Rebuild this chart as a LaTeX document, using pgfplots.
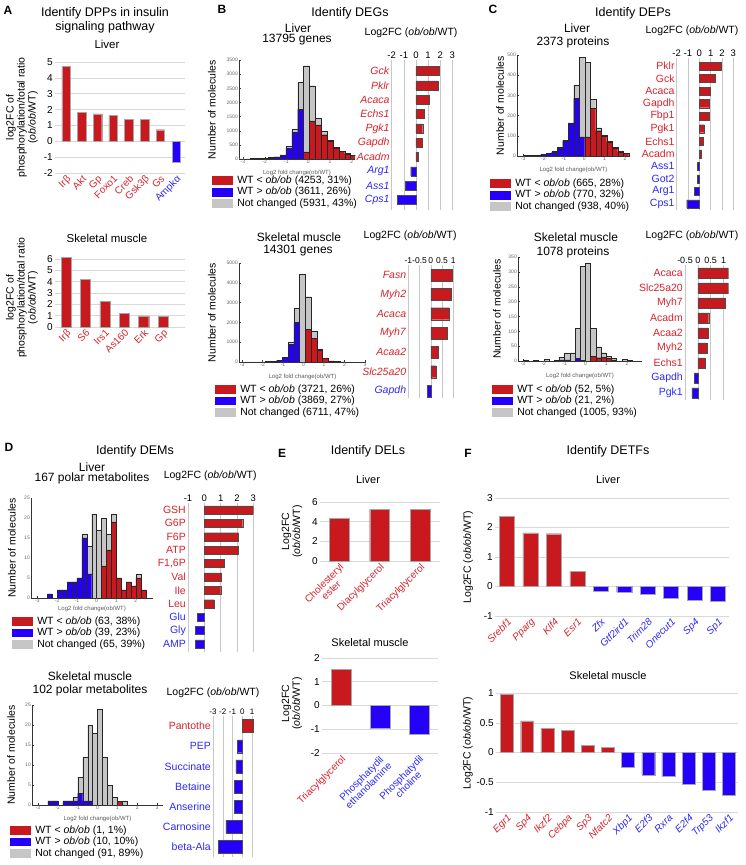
\documentclass[border=0pt]{standalone}
\usepackage{fontspec}
\setmainfont{Liberation Sans}
\usepackage{pgfplots}
\pgfplotsset{compat=1.18}
\definecolor{cred}{RGB}{200,25,30}
\definecolor{cblue}{RGB}{36,0,250}
\definecolor{cgray}{RGB}{198,198,198}
\definecolor{tred}{RGB}{215,35,45}
\definecolor{tblue}{RGB}{45,40,245}
\newcommand{\fs}[1]{\fontsize{#1}{#1}\selectfont}
\newcommand{\R}[1]{\textcolor{tred}{#1}}
\newcommand{\B}[1]{\textcolor{tblue}{#1}}
\newcommand{\RI}[1]{\textcolor{tred}{\textit{#1}}}
\newcommand{\BI}[1]{\textcolor{tblue}{\textit{#1}}}
\newcommand{\obob}{\textit{ob/ob}}
\pgfplotsset{
  every axis/.append style={scale only axis, anchor=south west,
    /pgf/number format/assume math mode=true,
    /pgf/number format/1000 sep={}, scaled ticks=false},
  hist/.style={
    axis x line*=bottom, axis y line*=left,
    axis line style={black!80, line width=0.4pt},
    tick align=inside, major tick length=1.5pt,
    tick style={black!80, line width=0.3pt},
    ticklabel style={font=\fs{5}, text=black!60, inner sep=1pt},
    ymin=0,
    xlabel={Log2 fold change(ob/WT)},
    xlabel style={font=\fs{6}, text=black!65, inner sep=0pt, anchor=center},
    ylabel={Number of molecules},
    ylabel style={font=\fs{10.5}, inner sep=0pt, anchor=center},
    legend cell align=left,
    legend style={draw=none, fill=none, inner sep=0pt, anchor=north west,
      font=\fs{10.5}, row sep=0.5pt,
      nodes={inner sep=0.6pt, text height=7.6pt, text depth=2.2pt}},
    legend image code/.code={\fill[##1, draw=none] (0pt,-4.3pt) rectangle (21pt,4.3pt);},
    /tikz/every odd column/.append style={column sep=3.5pt},
  },
  gb/.style={ybar, bar width=#1, bar shift=0pt, fill=cgray, draw=black!85, line width=0.3pt, forget plot},
  rb/.style={ybar, bar width=#1, bar shift=0pt, fill=cred, draw=black!85, line width=0.3pt, forget plot},
  bb/.style={ybar, bar width=#1, bar shift=0pt, fill=cblue, draw=black!85, line width=0.3pt, forget plot},
  hbar/.style={
    axis line style={draw=none}, tick style={draw=none},
    xmajorgrids, major grid style={black!22, line width=0.5pt},
    xticklabel pos=upper,
    xticklabel style={font=\fs{9.5}, inner sep=1.5pt},
    yticklabel style={font=\fs{10.5}, inner sep=2pt},
    extra x ticks={0}, extra x tick labels={},
    extra x tick style={grid style={black!80, line width=0.6pt}},
    title={Log2FC (\obob/WT)},
    title style={font=\fs{10.5}, anchor=center, inner sep=0pt},
  },
  hr/.style={xbar, bar width=#1, bar shift=0pt, fill=cred, draw=black!70, line width=0.3pt},
  hb/.style={xbar, bar width=#1, bar shift=0pt, fill=cblue, draw=black!70, line width=0.3pt},
  cbar/.style={
    clip=false,
    axis line style={draw=none}, tick style={draw=none},
    ymajorgrids, major grid style={black!15, line width=0.5pt},
    yticklabel style={font=\fs{10}, inner sep=2pt},
    xticklabel style={font=\fs{10}, rotate=45, anchor=north east, inner sep=1pt, align=center},
    extra y ticks={0}, extra y tick labels={},
    extra y tick style={grid style={black!45, line width=0.9pt}},
    ylabel style={font=\fontsize{10.5}{11}\selectfont, anchor=center, align=center, inner sep=0pt},
  },
  cr/.style={ybar, bar width=#1, bar shift=0pt, fill=cred, draw=black!35, line width=0.3pt},
  cb/.style={ybar, bar width=#1, bar shift=0pt, fill=cblue, draw=black!35, line width=0.3pt},
}
\begin{document}
\begin{tikzpicture}[x=1pt,y=1pt]
\useasboundingbox (0,0) rectangle (745,865);
% ---------- texts ----------
\node[font=\bfseries\fs{12}] at (8,855) {A};
\node[font=\bfseries\fs{12}] at (222,856) {B};
\node[font=\bfseries\fs{12}] at (493,856) {C};
\node[font=\bfseries\fs{12}] at (9,418) {D};
\node[font=\bfseries\fs{12}] at (282,412) {E};
\node[font=\bfseries\fs{12}] at (468,412) {F};
\node[font=\fs{12.5}] at (105,852) {Identify DPPs in insulin};
\node[font=\fs{12.5}] at (105,838) {signaling pathway};
\node[font=\fs{11.5}] at (107,821) {Liver};
\node[font=\fs{11.5}] at (107,627) {Skeletal muscle};
\node[font=\fs{12.5}] at (350,852) {Identify DEGs};
\node[font=\fs{12}] at (298,837) {Liver};
\node[font=\fs{12}] at (297,825) {13795 genes};
\node[font=\fs{12}] at (299,628) {Skeletal muscle};
\node[font=\fs{12}] at (298,614) {14301 genes};
\node[font=\fs{12.5}] at (633,852) {Identify DEPs};
\node[font=\fs{12}] at (577,837) {Liver};
\node[font=\fs{12}] at (573,823) {2373 proteins};
\node[font=\fs{12}] at (576,628) {Skeletal muscle};
\node[font=\fs{12}] at (573,613) {1078 proteins};
\node[font=\fs{12.5}] at (135,414) {Identify DEMs};
\node[font=\fs{12}] at (92,398) {Liver};
\node[font=\fs{12}] at (92,387) {167 polar metabolites};
\node[font=\fs{12}] at (90,189) {Skeletal muscle};
\node[font=\fs{12}] at (90,175) {102 polar metabolites};
\node[font=\fs{12.5}] at (368,414) {Identify DELs};
\node[font=\fs{11}] at (368,385) {Liver};
\node[font=\fs{11}] at (370,222) {Skeletal muscle};
\node[font=\fs{12.5}] at (608,414) {Identify DETFs};
\node[font=\fs{11}] at (608,385) {Liver};
\node[font=\fs{11}] at (608,189) {Skeletal muscle};

% ---------- A liver ----------
\begin{axis}[cbar, at={(55pt,692pt)}, width=130pt, height=111pt,
  xmin=-0.7, xmax=7.57, ymin=-2, ymax=5, ytick={-2,...,5},
  xtick={0,...,7},
  xticklabels={\R{Irβ},\R{Akt},\R{Gp},\R{Foxo1},\R{Creb},\R{Gsk3β},\R{Gs},\B{Ampkα}},
  ylabel={log2FC of\\phosphorylation/total ratio\\(\obob/WT)},
  ylabel style={at={(axis description cs:-0.254,0.5)}}]
\addplot[cr=0.54] coordinates {(0,4.73) (1,1.81) (2,1.73) (3,1.63) (4,1.4) (5,1.38) (6,0.73)};
\addplot[cb=0.54] coordinates {(7,-1.29)};
\end{axis}
% ---------- A skeletal ----------
\begin{axis}[cbar, at={(55pt,538pt)}, width=130pt, height=68pt,
  xmin=-0.57, xmax=6.13, ymin=0, ymax=6, ytick={0,...,6},
  xtick={0,...,5},
  xticklabels={\R{Irβ},\R{S6},\R{Irs1},\R{As160},\R{Erk},\R{Gp}},
  ylabel={log2FC of\\phosphorylation/total ratio\\(\obob/WT)},
  ylabel style={at={(axis description cs:-0.254,0.43)}}]
\addplot[cr=0.52] coordinates {(0,6.17) (1,4.2) (2,2.25) (3,1.19) (4,0.98) (5,0.95)};
\end{axis}

% ---------- B liver hist ----------
\begin{axis}[hist, at={(239pt,706pt)}, width=116pt, height=99pt,
  xmin=-3.18, xmax=2.15, ymax=3500, xtick={-3,...,2}, ytick={0,500,...,3500},
  xlabel style={at={(axis description cs:0.5,-0.14)}},
  ylabel style={at={(axis description cs:-0.233,0.5)}},
  legend style={at={(axis description cs:-0.233,-0.162)}}]
\addlegendimage{fill=cred}\addlegendentry{WT < \obob{} (4253, 31\%)}
\addlegendimage{fill=cblue}\addlegendentry{WT > \obob{} (3611, 26\%)}
\addlegendimage{fill=cgray}\addlegendentry{Not changed (5931, 43\%)}
\addplot[gb=0.27] coordinates {(-3.05,10) (-2.78,10) (-2.51,15) (-2.24,20) (-1.97,30) (-1.70,50) (-1.43,80) (-1.16,150) (-0.89,450) (-0.62,1050) (-0.35,2700) (-0.08,3300) (0.19,2590) (0.46,1450) (0.73,980) (1.00,680) (1.27,420) (1.54,290) (1.81,190) (2.08,130)};
\addplot[bb=0.27] coordinates {(-1.97,25) (-1.70,45) (-1.43,75) (-1.16,140) (-0.89,380) (-0.62,950) (-0.35,1750)};
\addplot[rb=0.27] coordinates {(-0.08,250) (0.19,1350) (0.46,1210) (0.73,860) (1.00,620) (1.27,390) (1.54,270) (1.81,180) (2.08,120)};
\end{axis}
% ---------- B liver hbar ----------
\begin{axis}[hbar, at={(391.7pt,655pt)}, width=60.6pt, height=150pt,
  xmin=-2, xmax=3, xtick={-2,...,3}, ymin=-0.7, ymax=9.77, ytick={0,...,9},
  yticklabels={\BI{Cps1},\BI{Ass1},\BI{Arg1},\RI{Acadm},\RI{Gapdh},\RI{Pgk1},\RI{Echs1},\RI{Acaca},\RI{Pklr},\RI{Gck}},
  title style={at={(axis description cs:0.32,1.14)}}]
\addplot[hr=0.63] coordinates {(1.93,9) (1.8,8) (1.1,7) (0.7,6) (0.56,5) (0.53,4) (0.2,3)};
\addplot[hb=0.63] coordinates {(-0.43,2) (-0.9,1) (-1.54,0)};
\end{axis}
% ---------- B skeletal hist ----------
\begin{axis}[hist, at={(239pt,503pt)}, width=127pt, height=99pt,
  xmin=-3.15, xmax=3.05, ymax=5000, xtick={-3,...,3}, ytick={0,1000,...,5000},
  xlabel style={at={(axis description cs:0.5,-0.148)}},
  ylabel style={at={(axis description cs:-0.213,0.5)}},
  legend style={at={(axis description cs:-0.189,-0.222)}}]
\addlegendimage{fill=cred}\addlegendentry{WT < \obob{} (3721, 26\%)}
\addlegendimage{fill=cblue}\addlegendentry{WT > \obob{} (3869, 27\%)}
\addlegendimage{fill=cgray}\addlegendentry{Not changed (6711, 47\%)}
\addplot[gb=0.28] coordinates {(-2.85,5) (-2.57,5) (-2.29,10) (-2.01,15) (-1.73,20) (-1.45,40) (-1.17,100) (-0.89,250) (-0.61,1000) (-0.33,2700) (-0.05,4450) (0.23,3300) (0.51,1550) (0.79,650) (1.07,200) (1.35,60) (1.63,20) (1.91,10)};
\addplot[bb=0.28] coordinates {(-1.73,20) (-1.45,40) (-1.17,100) (-0.89,240) (-0.61,900) (-0.33,2000)};
\addplot[rb=0.28] coordinates {(0.23,1650) (0.51,1200) (0.79,580) (1.07,180) (1.35,55) (1.63,18) (1.91,8)};
\end{axis}
% ---------- B skeletal hbar ----------
\begin{axis}[hbar, at={(408.3pt,467pt)}, width=45pt, height=133pt,
  xmin=-1, xmax=1, xtick={-1,-0.5,0,0.5,1}, ymin=-0.36, ymax=6.52, ytick={0,...,6},
  xticklabel style={font=\fs{8.5}},
  yticklabels={\BI{Gapdh},\RI{Slc25a20},\RI{Acaa2},\RI{Myh7},\RI{Acaca},\RI{Myh2},\RI{Fasn}},
  title style={at={(axis description cs:0.04,1.173)}}]
\addplot[hr=0.62] coordinates {(0.96,6) (0.89,5) (0.81,4) (0.71,3) (0.34,2) (0.22,1)};
\addplot[hb=0.62] coordinates {(-0.18,0)};
\end{axis}

% ---------- C liver hist ----------
\begin{axis}[hist, at={(517pt,709pt)}, width=113pt, height=101pt,
  xmin=-3.3, xmax=2.25, ymax=500, xtick={-3,...,2}, ytick={0,100,...,500},
  xlabel style={at={(axis description cs:0.5,-0.139)}},
  ylabel style={at={(axis description cs:-0.15,0.5)}},
  legend style={at={(axis description cs:-0.239,-0.218)}}]
\addlegendimage{fill=cred}\addlegendentry{WT < \obob{} (665, 28\%)}
\addlegendimage{fill=cblue}\addlegendentry{WT > \obob{} (770, 32\%)}
\addlegendimage{fill=cgray}\addlegendentry{Not changed (938, 40\%)}
\addplot[gb=0.27] coordinates {(-2.81,3) (-2.54,2) (-2.27,4) (-2.00,8) (-1.73,12) (-1.46,22) (-1.19,42) (-0.92,80) (-0.65,165) (-0.38,350) (-0.11,490) (0.16,465) (0.43,280) (0.70,140) (0.97,105) (1.24,72) (1.51,42) (1.78,22) (2.05,14)};
\addplot[bb=0.27] coordinates {(-2.81,3) (-2.54,2) (-2.27,4) (-2.00,8) (-1.73,12) (-1.46,20) (-1.19,38) (-0.92,75) (-0.65,160) (-0.38,285) (-0.11,95)};
\addplot[rb=0.27] coordinates {(0.16,95) (0.43,235) (0.70,125) (0.97,100) (1.24,70) (1.51,40) (1.78,20) (2.05,12)};
\end{axis}
% ---------- C liver hbar ----------
\begin{axis}[hbar, at={(676.7pt,655pt)}, width=56.6pt, height=152pt,
  xmin=-2, xmax=3, xtick={-2,...,3}, ymin=-0.48, ymax=11.64, ytick={0,...,11},
  yticklabels={\B{Cps1},\B{Arg1},\B{Got2},\B{Ass1},\R{Acadm},\R{Echs1},\R{Pgk1},\R{Fbp1},\R{Gapdh},\R{Acaca},\R{Gck},\R{Pklr}},
  title style={at={(axis description cs:0.27,1.138)}}]
\addplot[hr=0.64] coordinates {(1.97,11) (1.38,10) (0.94,9) (0.88,8) (0.85,7) (0.44,6) (0.35,5) (0.2,4)};
\addplot[hb=0.64] coordinates {(-0.18,3) (-0.18,2) (-0.44,1) (-1.12,0)};
\end{axis}
% ---------- C skeletal hist ----------
\begin{axis}[hist, at={(518pt,504pt)}, width=124pt, height=104pt,
  xmin=-3.24, xmax=2.72, ymax=350, xtick={-3,...,2}, ytick={0,50,...,350},
  xlabel style={at={(axis description cs:0.5,-0.141)}},
  ylabel style={at={(axis description cs:-0.17,0.5)}},
  legend style={at={(axis description cs:-0.21,-0.221)}}]
\addlegendimage{fill=cred}\addlegendentry{WT < \obob{} (52, 5\%)}
\addlegendimage{fill=cblue}\addlegendentry{WT > \obob{} (21, 2\%)}
\addlegendimage{fill=cgray}\addlegendentry{Not changed (1005, 93\%)}
\addplot[gb=0.25] coordinates {(-2.875,2) (-2.375,2) (-1.875,5) (-1.375,2) (-1.125,12) (-0.875,25) (-0.625,28) (-0.375,110) (-0.125,318) (0.125,330) (0.375,110) (0.625,48) (0.875,28) (1.125,15) (1.375,8) (1.875,5) (2.125,2)};
\addplot[bb=0.25] coordinates {(-2.375,2) (-1.125,4) (-0.875,4) (-0.375,9) (-0.125,3)};
\addplot[rb=0.25] coordinates {(0.375,16) (0.625,11) (0.875,12) (1.125,9) (1.375,4)};
\end{axis}
% ---------- C skeletal hbar ----------
\begin{axis}[hbar, at={(685pt,465pt)}, width=43.7pt, height=135pt,
  xmin=-0.5, xmax=1.2, xtick={-0.5,0,0.5,1}, ymin=-0.47, ymax=8.53, ytick={0,...,8},
  xticklabel style={font=\fs{9}},
  yticklabels={\B{Pgk1},\B{Gapdh},\R{Echs1},\R{Myh2},\R{Acaa2},\R{Acadm},\R{Myh7},\R{Slc25a20},\R{Acaca}},
  title style={at={(axis description cs:0.16,1.17)}}]
\addplot[hr=0.67] coordinates {(1.17,8) (1.17,7) (1.08,6) (0.42,5) (0.41,4) (0.37,3) (0.27,2)};
\addplot[hb=0.67] coordinates {(-0.14,1) (-0.23,0)};
\end{axis}

% ---------- D liver hist ----------
\begin{axis}[hist, at={(31pt,267pt)}, width=122pt, height=100pt,
  xmin=-3.33, xmax=2.87, ymax=25, xtick={-3,...,2}, ytick={0,5,...,25},
  xlabel style={at={(axis description cs:0.5,-0.113)}},
  ylabel style={at={(axis description cs:-0.156,0.5)}},
  legend style={at={(axis description cs:-0.156,-0.18)}}]
\addlegendimage{fill=cred}\addlegendentry{WT < \obob{} (63, 38\%)}
\addlegendimage{fill=cblue}\addlegendentry{WT > \obob{} (39, 23\%)}
\addlegendimage{fill=cgray}\addlegendentry{Not changed (65, 39\%)}
\addplot[gb=0.25] coordinates {(-2.37,1) (-1.87,2) (-1.62,2) (-1.37,4) (-1.12,4) (-0.87,5) (-0.62,16) (-0.37,13) (-0.12,21) (0.13,17) (0.38,20) (0.63,16) (0.88,21) (1.13,5) (1.38,2) (1.63,4) (1.88,3) (2.13,6) (2.38,2)};
\addplot[bb=0.25] coordinates {(-2.37,1) (-1.87,2) (-1.62,2) (-1.37,4) (-1.12,4) (-0.87,5) (-0.62,15) (-0.37,6)};
\addplot[rb=0.25] coordinates {(0.38,8) (0.63,12) (0.88,19) (1.13,5) (1.38,2) (1.63,4) (1.88,3) (2.13,5) (2.38,2)};
\end{axis}
% ---------- D liver hbar ----------
\begin{axis}[hbar, at={(188pt,213pt)}, width=65.3pt, height=149pt,
  xmin=-1, xmax=3, xtick={-1,...,3}, ymin=-0.6, ymax=10.52, ytick={0,...,10},
  yticklabels={\B{AMP},\B{Gly},\B{Glu},\R{Leu},\R{Ile},\R{Val},{\R{F1,6P}},\R{ATP},\R{F6P},\R{G6P},\R{GSH}},
  title style={at={(axis description cs:0.34,1.141)}}]
\addplot[hr=0.6] coordinates {(3.0,10) (2.35,9) (2.1,8) (2.08,7) (1.2,6) (1.04,5) (1.0,4) (0.61,3)};
\addplot[hb=0.6] coordinates {(-0.43,2) (-0.57,1) (-0.57,0)};
\end{axis}
% ---------- D skeletal hist ----------
\begin{axis}[hist, at={(32pt,60pt)}, width=131pt, height=100pt,
  xmin=-3.3, xmax=3.3, ymax=25, xtick={-3,...,3}, ytick={0,5,...,25},
  xlabel style={at={(axis description cs:0.5,-0.14)}},
  ylabel style={at={(axis description cs:-0.16,0.5)}},
  legend style={at={(axis description cs:-0.168,-0.2)}}]
\addlegendimage{fill=cred}\addlegendentry{WT < \obob{} (1, 1\%)}
\addlegendimage{fill=cblue}\addlegendentry{WT > \obob{} (10, 10\%)}
\addlegendimage{fill=cgray}\addlegendentry{Not changed (91, 89\%)}
\addplot[gb=0.25] coordinates {(-2.37,1) (-2.12,1) (-1.62,1) (-1.37,1) (-1.12,2) (-0.87,7) (-0.62,12) (-0.37,20) (-0.12,18) (0.13,24) (0.38,12) (0.63,5) (0.88,2) (1.13,1) (1.38,1)};
\addplot[bb=0.25] coordinates {(-2.37,1) (-2.12,1) (-1.62,1) (-1.37,1) (-1.12,1) (-0.87,3) (-0.62,1) (-0.37,1)};
\addplot[rb=0.25] coordinates {(1.13,1)};
\end{axis}
% ---------- D skeletal hbar ----------
\begin{axis}[hbar, at={(213pt,8pt)}, width=41pt, height=141pt,
  xmin=-3, xmax=1.2, xtick={-3,...,1}, ymin=-0.5, ymax=6.5, ytick={0,...,6},
  xticklabel style={font=\fs{8}},
  yticklabels={\B{beta-Ala},\B{Carnosine},\B{Anserine},\B{Betaine},\B{Succinate},\B{PEP},\R{Pantothe}},
  title style={at={(axis description cs:0,1.12)}}]
\addplot[hr=0.64] coordinates {(1.16,6)};
\addplot[hb=0.64] coordinates {(-0.48,5) (-0.65,4) (-0.82,3) (-0.82,2) (-1.67,1) (-2.46,0)};
\end{axis}

% ---------- E liver ----------
\begin{axis}[cbar, at={(320pt,304pt)}, width=120pt, height=59pt,
  xmin=-0.47, xmax=2.49, ymin=0, ymax=6, ytick={0,2,4,6},
  xtick={0,1,2},
  xticklabels={\R{Cholesteryl}\\\R{ester},\R{Diacylglycerol},\R{Triacylglycerol}},
  ylabel={Log2FC\\(\obob/WT)},
  ylabel style={font=\fontsize{10.5}{9}\selectfont, at={(axis description cs:-0.233,0.5)}}]
\addplot[cr=0.49] coordinates {(0,4.31) (1,5.26) (2,5.26)};
\end{axis}
% ---------- E skeletal ----------
\begin{axis}[cbar, at={(322pt,112pt)}, width=116pt, height=95pt,
  xmin=-0.49, xmax=2.49, ymin=-2, ymax=2, ytick={-2,...,2},
  xtick={0,1,2},
  xticklabels={\R{Triacylglycerol},\B{Phosphatydil}\\\B{ethanolamine},\B{Phosphatydil}\\\B{choline}},
  ylabel={Log2FC\\(\obob/WT)},
  ylabel style={font=\fontsize{10.5}{9}\selectfont, at={(axis description cs:-0.259,0.52)}}]
\addplot[cr=0.51] coordinates {(0,1.51)};
\addplot[cb=0.51] coordinates {(1,-0.97) (2,-1.22)};
\end{axis}

% ---------- F liver ----------
\begin{axis}[cbar, at={(495pt,249pt)}, width=234pt, height=118pt,
  xmin=-0.51, xmax=9.47, ymin=-1, ymax=3, ytick={-1,...,3},
  xtick={0,...,9},
  xticklabels={\RI{Srebf1},\RI{Pparg},\RI{Klf4},\RI{Esr1},\BI{Zfx},\BI{Gtf2ird1},\BI{Trim28},\BI{Onecut1},\BI{Sp4},\BI{Sp1}},
  ylabel={Log2FC (\obob/WT)},
  ylabel style={at={(axis description cs:-0.115,0.5)}}]
\addplot[cr=0.64] coordinates {(0,2.38) (1,1.82) (2,1.79) (3,0.51)};
\addplot[cb=0.64] coordinates {(4,-0.17) (5,-0.19) (6,-0.27) (7,-0.41) (8,-0.45) (9,-0.5)};
\end{axis}
% ---------- F skeletal ----------
\begin{axis}[cbar, at={(496pt,53pt)}, width=242pt, height=119pt,
  xmin=-0.545, xmax=11.45, ymin=-1, ymax=1, ytick={-1,-0.5,0,0.5,1},
  xtick={0,...,11},
  xticklabels={\RI{Egr1},\RI{Sp4},\RI{Ikzf2},\RI{Cebpa},\RI{Sp3},\RI{Nfatc2},\BI{Xbp1},\BI{E2f3},\BI{Rxra},\BI{E2f4},\BI{Trp53},\BI{Ikzf1}},
  ylabel={Log2FC (\obob/WT)},
  ylabel style={at={(axis description cs:-0.116,0.58)}}]
\addplot[cr=0.64] coordinates {(0,0.98) (1,0.53) (2,0.41) (3,0.37) (4,0.12) (5,0.09)};
\addplot[cb=0.64] coordinates {(6,-0.24) (7,-0.38) (8,-0.4) (9,-0.53) (10,-0.64) (11,-0.72)};
\end{axis}
\end{tikzpicture}
\end{document}
